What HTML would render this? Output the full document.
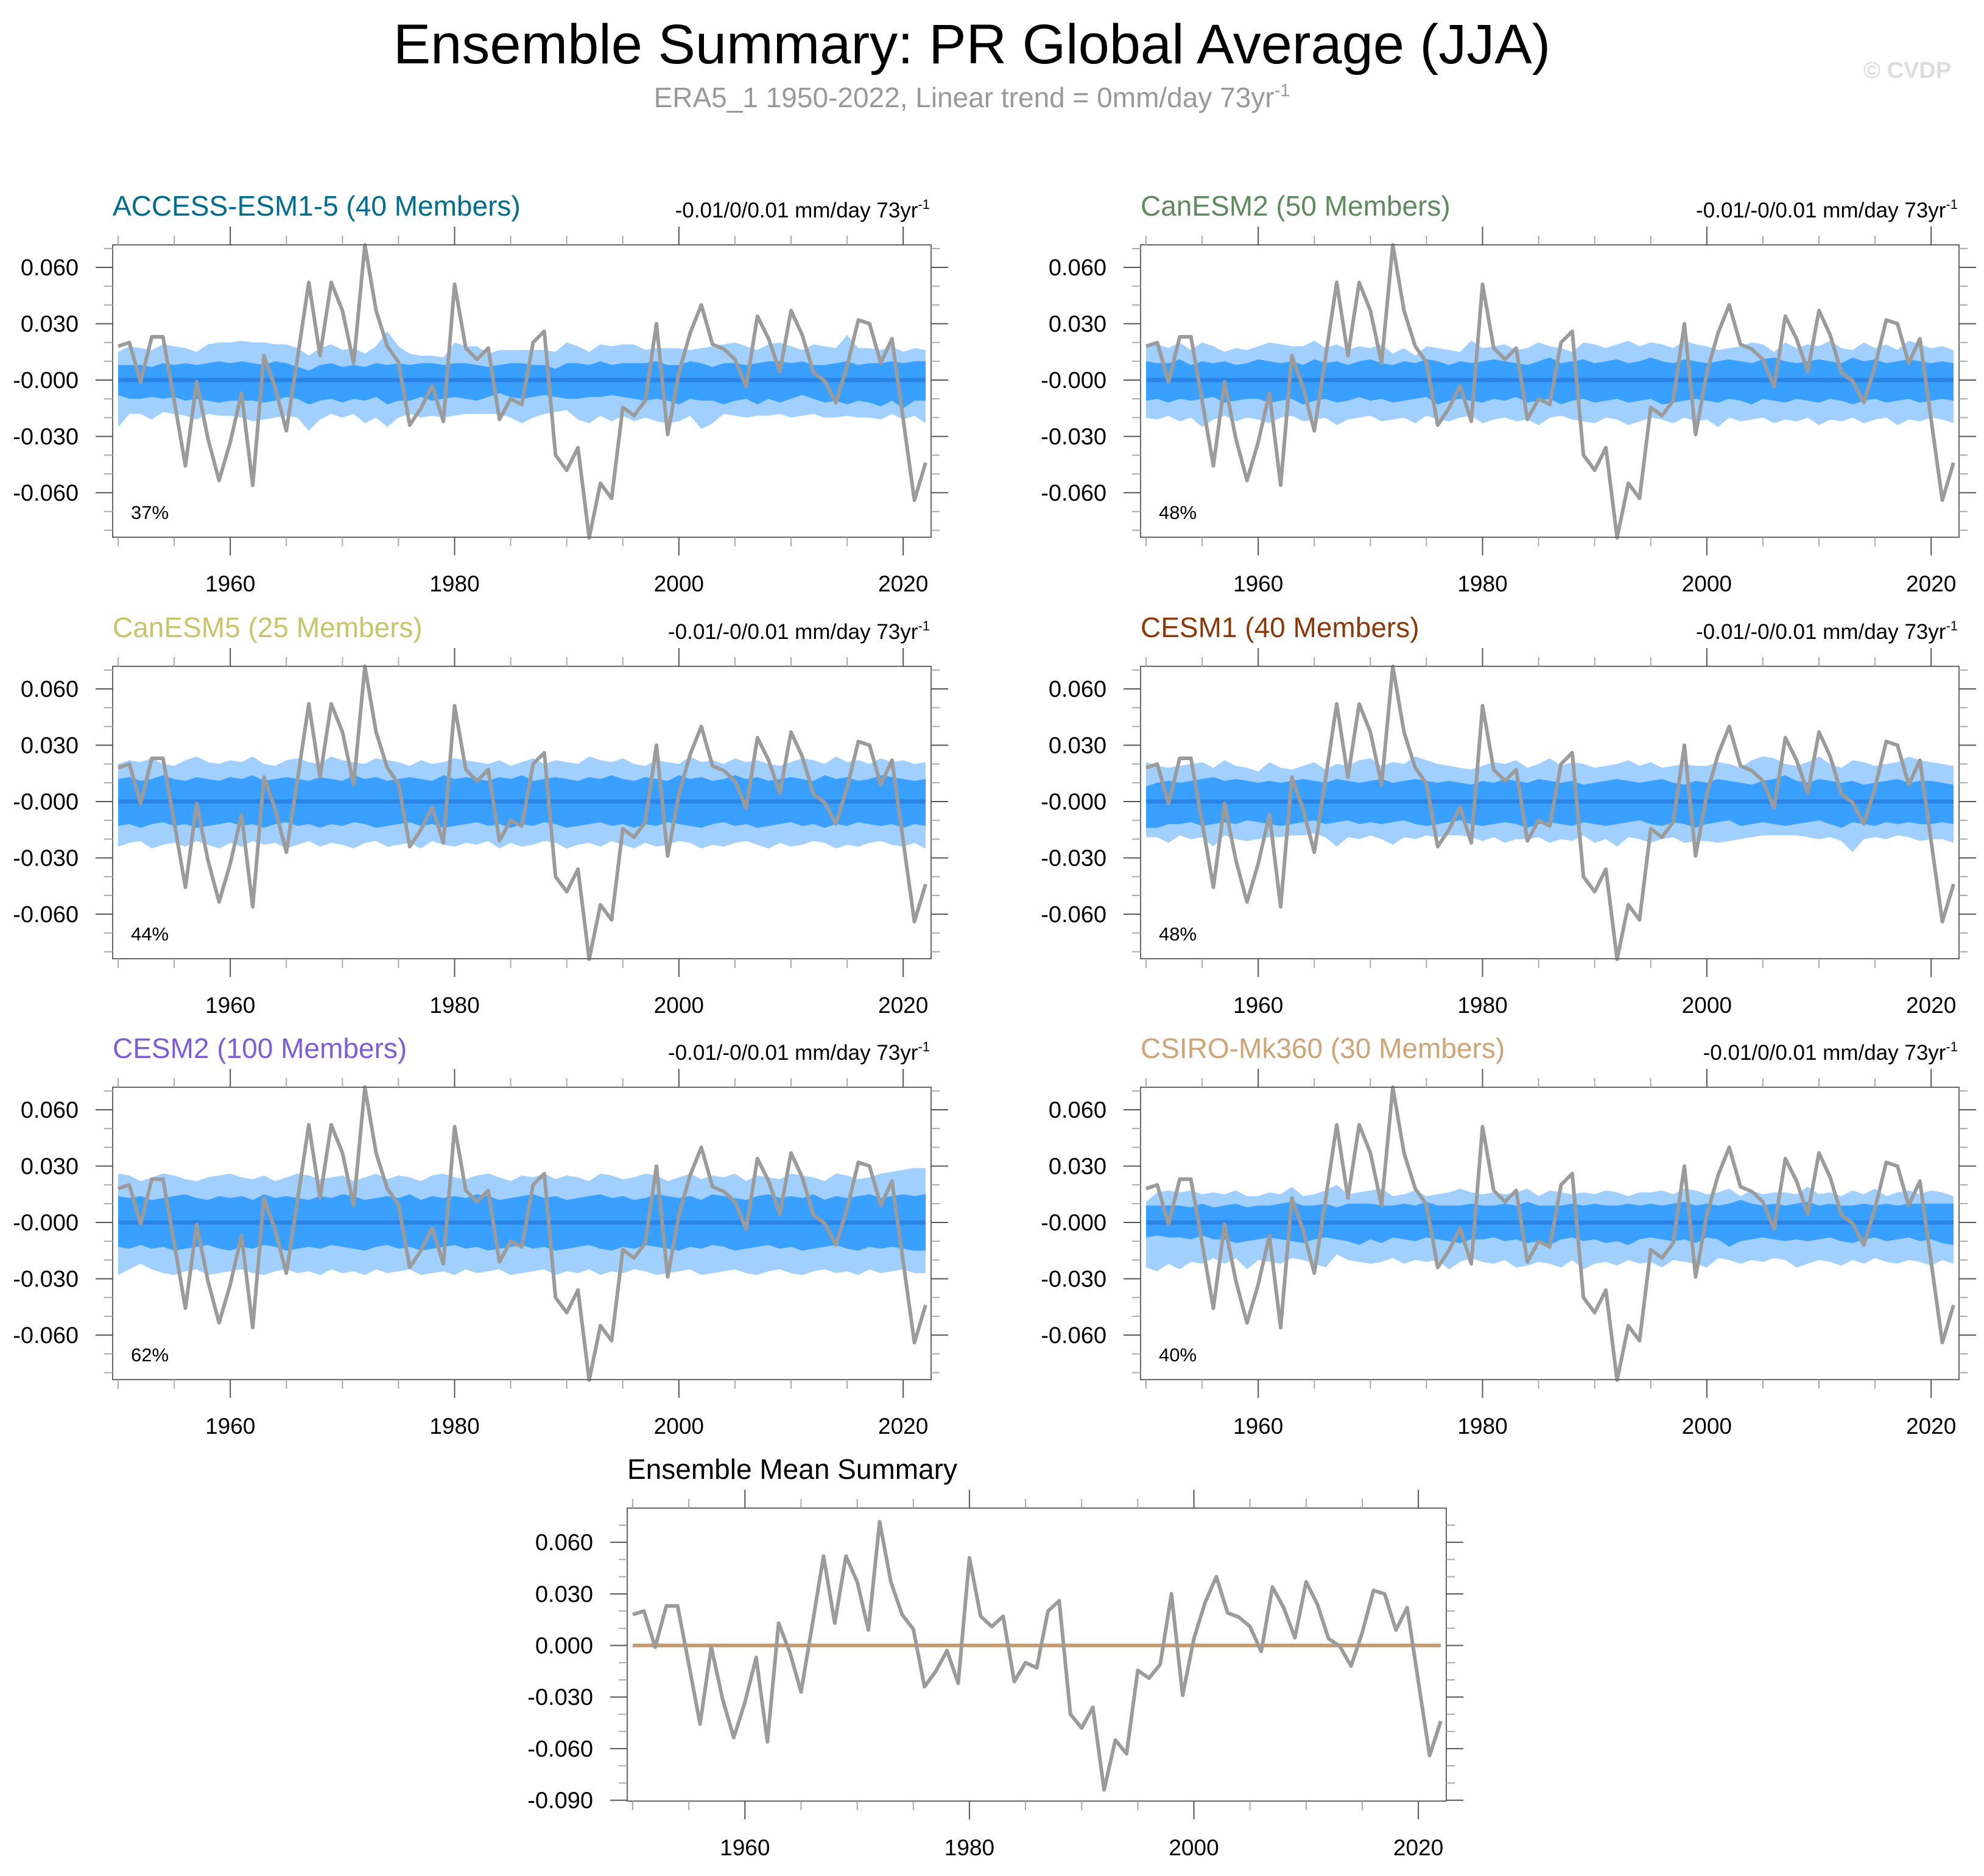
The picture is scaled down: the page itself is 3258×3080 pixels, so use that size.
<!DOCTYPE html>
<html><head><meta charset="utf-8">
<style>
html,body{margin:0;padding:0;background:#fff;}
body{width:3258px;height:3075px;overflow:hidden;font-family:"Liberation Sans",sans-serif;}
svg text{font-family:"Liberation Sans",sans-serif;}
</style></head>
<body>
<svg id="chart" width="3258" height="3075" viewBox="0 0 3258 3075" xmlns="http://www.w3.org/2000/svg">
<text x="1596" y="104" font-size="92" text-anchor="middle" fill="#000">Ensemble Summary: PR Global Average (JJA)</text>
<text x="1596" y="176" font-size="46" text-anchor="middle" fill="#999">ERA5_1 1950-2022, Linear trend = 0mm/day 73yr<tspan dy="-18" font-size="29">-1</tspan></text>
<text x="3132" y="128" font-size="38" font-weight="bold" text-anchor="middle" fill="#ddd">© CVDP</text>
</svg>
<script>
// Observed series (ERA5) 1950-2022, mm/day anomaly
const years = Array.from({length:73},(_,i)=>1950+i);
const obs = [0.018,0.020,-0.001,0.023,0.023,-0.011,-0.0457,-0.001,-0.031,-0.0535,
 -0.033,-0.007,-0.056,0.013,-0.004,-0.027,0.012,0.052,0.013,0.052,
 0.037,0.009,0.072,0.037,0.018,0.0095,-0.024,-0.015,-0.003,-0.022,
 0.051,0.017,0.011,0.017,-0.021,-0.010,-0.013,0.020,0.026,-0.040,
 -0.048,-0.036,-0.084,-0.055,-0.063,-0.0145,-0.019,-0.011,0.030,-0.029,
 0.004,0.025,0.040,0.019,0.0165,0.011,-0.0035,0.034,0.022,0.0045,
 0.037,0.024,0.004,-0.0005,-0.012,0.0075,0.032,0.030,0.009,0.022,
 -0.021,-0.064,-0.044];
// Ensemble bands in 0.001 mm/day: outer-high, inner-high, inner-low (magnitude), outer-low (magnitude)
const accessOH=[15,18,17,16,19,18,17,15,19,20,20,21,20,20,19,19,17,13,17,19,16,17,14,18,26,18,14,13,13,12,20,18,18,14,16,16,16,16,16,15,20,18,15,19,18,19,19,16,17,17,17,16,17,18,19,20,18,16,19,20,18,16,19,18,17,24,17,17,16,18,15,17,16];
const accessIH=[8,8,8,7,9,8,9,8,9,10,9,10,9,8,10,9,7,5,8,9,7,8,7,9,8,9,8,9,9,8,9,9,8,7,8,9,9,8,8,6,9,9,8,10,8,9,9,9,10,8,8,10,9,7,9,9,8,9,10,10,9,10,8,8,9,10,8,9,9,10,9,10,10];
const accessIL=[8,10,10,9,10,9,11,10,11,12,11,11,11,12,11,9,10,13,11,10,12,10,11,9,13,11,11,9,11,10,9,10,11,9,7,9,10,9,8,9,10,10,9,9,8,9,10,11,10,11,13,10,11,11,13,11,10,13,10,12,10,8,10,12,11,13,11,12,14,11,15,11,11];
const accessOL=[25,18,18,21,17,18,19,21,18,19,19,20,22,21,20,19,20,27,21,18,20,18,23,20,25,20,18,20,19,20,19,18,18,18,18,20,23,20,18,17,16,21,23,19,22,19,22,20,22,23,22,19,26,23,18,19,20,19,19,18,20,19,18,20,20,19,20,20,21,18,21,19,23];
const can2OH=[18,19,17,20,16,20,18,15,17,16,18,20,19,18,18,21,17,19,16,18,17,19,14,17,13,18,17,16,15,21,17,18,19,16,17,20,18,17,15,20,19,17,19,21,18,20,19,17,21,19,18,16,17,18,20,19,15,20,17,19,18,21,17,16,20,17,19,16,21,19,17,18,16];
const can2IH=[10,9,9,11,8,10,9,10,8,9,11,10,9,10,8,11,9,10,8,10,11,9,8,10,9,11,10,8,10,9,10,11,10,9,8,10,12,9,10,11,9,10,11,9,10,12,10,9,11,10,9,10,11,10,9,11,12,10,9,10,11,10,9,12,10,11,9,10,11,10,9,10,9];
const can2IL=[11,10,12,10,11,10,9,12,11,10,10,12,11,10,13,11,10,12,11,9,11,10,12,11,10,9,13,11,10,11,12,10,11,9,12,11,10,13,11,10,12,11,10,12,11,10,13,12,11,10,11,12,10,11,13,10,11,12,10,11,12,10,11,13,11,10,12,11,10,12,11,10,11];
const can2OL=[20,21,19,22,20,25,21,19,22,20,21,23,20,19,22,21,20,24,21,20,19,22,21,20,23,19,21,22,20,19,23,21,20,22,21,24,20,19,21,22,23,20,21,24,22,20,21,23,20,22,21,25,20,22,21,20,23,21,22,20,24,21,22,20,23,21,20,24,21,22,20,21,23];
const can5OH=[20,22,21,23,20,19,22,24,21,20,22,21,24,20,19,22,23,21,20,24,22,21,20,23,22,21,19,22,20,21,23,22,21,20,22,19,21,23,20,22,21,20,24,22,21,23,20,19,22,21,20,24,21,22,20,23,21,22,20,19,21,23,22,20,24,21,22,20,23,21,22,20,21];
const can5IH=[12,13,11,12,14,12,11,13,12,11,13,12,14,11,12,13,12,11,13,12,11,14,12,13,11,12,13,12,11,14,12,13,12,11,13,12,14,11,12,13,12,11,13,12,14,12,11,13,12,11,14,12,13,11,12,14,12,13,11,12,13,12,11,14,12,13,11,12,14,13,12,11,12];
const can5IL=[13,12,14,12,11,13,12,14,13,12,11,13,12,14,12,11,13,12,14,12,13,11,12,14,13,12,11,13,12,14,13,12,11,13,12,14,12,13,11,12,14,13,12,11,13,12,14,12,13,11,12,13,14,12,11,13,12,14,13,12,11,13,12,14,12,13,11,12,13,12,14,12,13];
const can5OL=[24,22,21,25,23,22,24,21,23,25,22,24,21,23,22,25,23,21,24,22,23,25,22,21,24,23,22,25,21,23,24,22,23,21,25,22,24,23,21,22,25,23,22,24,21,23,25,22,24,23,21,22,25,23,24,22,21,23,25,22,24,23,21,22,25,23,24,22,21,23,24,22,25];
const cesm1OH=[21,19,18,19,20,21,18,22,19,18,16,21,18,17,19,21,17,20,19,22,23,19,21,20,24,22,20,19,18,17,19,21,20,22,18,20,23,19,21,20,18,19,20,22,19,21,18,19,20,19,19,21,20,18,22,24,23,20,19,21,24,20,18,22,21,19,20,21,24,22,21,20,19];
const cesm1IH=[8,10,11,10,11,12,13,11,12,11,10,11,10,11,12,11,10,12,11,10,11,12,10,11,12,11,10,11,10,9,11,10,12,11,10,12,11,10,11,9,10,11,12,11,10,11,12,10,9,11,10,12,11,10,9,11,12,14,11,10,12,11,10,11,9,10,11,12,10,11,11,10,9];
const cesm1IL=[14,14,12,12,11,13,12,11,12,10,11,12,13,12,11,10,12,11,10,12,11,12,11,10,12,13,12,11,10,12,13,12,11,12,14,12,11,12,13,11,12,13,12,11,10,12,13,11,12,14,12,11,10,13,12,11,12,13,12,11,10,12,14,11,12,13,11,12,11,12,12,11,12];
const cesm1OL=[19,19,22,18,20,19,24,18,20,21,20,19,19,18,18,17,19,24,19,20,18,20,23,19,20,18,19,18,18,19,21,19,22,20,20,19,22,20,21,18,22,20,24,19,20,22,20,19,22,21,21,22,21,20,19,18,18,18,18,19,20,19,21,27,20,19,20,18,19,21,20,20,22];
const cesm2OH=[26,25,22,24,26,25,23,22,24,25,26,24,23,25,22,24,26,25,23,24,25,22,24,26,23,25,24,22,25,26,24,23,25,26,24,22,25,24,26,23,25,24,22,26,25,23,24,26,25,22,24,26,23,25,24,26,22,25,24,23,26,25,24,22,26,25,23,24,26,27,28,29,29];
const cesm2IH=[14,13,14,12,13,14,15,13,12,14,13,14,12,15,13,14,13,12,14,13,15,14,12,13,14,13,15,12,14,13,14,13,15,14,12,13,14,15,13,14,12,13,14,15,13,14,12,13,15,14,13,14,12,15,14,13,12,14,15,13,14,13,15,12,14,13,14,15,13,14,15,14,15];
const cesm2IL=[13,14,12,14,13,15,14,13,12,14,15,13,14,12,13,15,14,13,14,12,13,14,15,13,12,14,13,15,14,13,12,14,13,15,14,13,12,14,13,15,14,13,12,14,15,13,14,12,13,14,15,13,14,12,13,15,14,13,12,14,13,15,14,13,12,14,15,13,14,13,14,15,15];
const cesm2OL=[28,25,22,25,27,28,26,25,28,27,26,25,27,28,26,25,27,26,28,25,27,26,28,25,27,26,25,28,27,26,28,25,27,26,25,28,27,26,25,28,26,27,25,28,26,27,25,26,28,27,26,25,28,27,26,25,27,28,26,25,27,28,26,25,27,26,28,25,27,26,25,27,27];
const csiroOH=[11,16,17,16,17,15,16,15,17,14,14,16,15,19,14,15,17,20,15,16,17,18,14,15,17,14,15,16,18,16,15,16,15,16,18,14,17,16,15,16,15,17,16,14,16,16,17,15,18,17,15,16,18,14,17,15,16,16,15,19,15,16,14,17,15,18,14,16,17,15,17,16,14];
const csiroIH=[9,9,9,9,8,10,8,9,10,8,9,9,10,11,9,9,10,8,10,10,10,9,9,10,9,11,9,9,9,10,9,9,10,9,11,9,9,9,10,9,10,9,9,10,9,10,9,10,11,9,10,9,10,12,10,9,10,9,10,11,9,10,9,9,10,9,10,9,10,10,10,10,10];
const csiroIL=[8,7,8,8,9,7,9,9,11,10,9,8,9,10,11,9,8,9,10,12,9,11,8,9,10,8,9,10,11,9,9,8,10,9,11,10,12,9,8,10,9,11,10,12,9,8,9,10,9,11,8,9,13,10,9,8,9,10,9,10,9,8,10,11,9,8,10,9,8,10,9,11,12];
const csiroOL=[24,26,22,25,21,22,19,22,19,25,20,21,22,19,20,22,24,17,20,21,22,21,19,22,20,21,20,25,21,19,21,22,20,24,23,21,22,24,20,25,22,21,23,20,22,21,24,20,21,22,24,19,20,22,20,21,19,20,24,22,20,21,23,20,22,19,21,22,20,21,23,20,22];
const modelNames=["ACCESS-ESM1-5 (40 Members)","CanESM2 (50 Members)","CanESM5 (25 Members)","CESM1 (40 Members)","CESM2 (100 Members)","CSIRO-Mk360 (30 Members)"];
const trendLabels=["-0.01/0/0.01","-0.01/-0/0.01","-0.01/-0/0.01","-0.01/-0/0.01","-0.01/-0/0.01","-0.01/0/0.01"];
const percents=["37%","48%","44%","48%","62%","40%"];
const yTickVals=[-0.06,-0.03,0,0.03,0.06];
const yTickLabels=["-0.060","-0.030","-0.000","0.030","0.060"];
const meanYTickVals=[-0.09,-0.06,-0.03,0,0.03,0.06];
const meanYTickLabels=["-0.090","-0.060","-0.030","0.000","0.030","0.060"];
const xTickVals=[1960,1980,2000,2020];

const bands=[[accessOH,accessIH,accessIL,accessOL],[can2OH,can2IH,can2IL,can2OL],[can5OH,can5IH,can5IL,can5OL],[cesm1OH,cesm1IH,cesm1IL,cesm1OL],[cesm2OH,cesm2IH,cesm2IL,cesm2OL],[csiroOH,csiroIH,csiroIL,csiroOL]];
const titleColors=["#006c8e","#5f8a5f","#c9c46a","#8b3a0c","#7d5ed8","#cfa476"];

const NS="http://www.w3.org/2000/svg";
const svg=document.getElementById('chart');
function mk(tag,attrs,parent){const e=document.createElementNS(NS,tag);for(const k in attrs)e.setAttribute(k,attrs[k]);(parent||svg).appendChild(e);return e;}

function drawPanel(p){
  const g=mk('g',{});
  
  
  const L=p.x,T=p.y,W=p.w,H=p.h;
  const xs=yr=>L+9+(yr-1950)*(W-18)/72;
  const ys=v=>T+(p.ymax-v)/(p.ymax-p.ymin)*H;
  if(p.band){
    const [oh,ih,il,ol]=p.band;
    const poly=(hi,lo,col,nm)=>{
      let pts=[];
      years.forEach((yr,i)=>pts.push(xs(yr)+','+ys(hi[i]/1000)));
      for(let i=years.length-1;i>=0;i--)pts.push(xs(years[i])+','+ys(-lo[i]/1000));
      const e=mk('polygon',{points:pts.join(' '),fill:col},g);
      
      
    };
    poly(oh,ol,'#a1d0ff','outer-spread-band');
    poly(ih,il,'#3aa0ff','inner-spread-band');
  }
  const ml=mk('line',{x1:xs(1950),x2:xs(2022),y1:ys(0),y2:ys(0),stroke:p.meanColor,'stroke-width':p.meanW},g);
  
  
  const op=mk('polyline',{points:years.map((yr,i)=>xs(yr)+','+ys(obs[i])).join(' '),fill:'none',stroke:'#9b9b9b','stroke-width':6,'stroke-linejoin':'round'},g);
  
  
  const fr=mk('rect',{x:L,y:T,width:W,height:H,fill:'none',stroke:'#666','stroke-width':2},g);
  
  
  for(let v=-0.09;v<=0.0801;v+=0.01){
    const vv=Math.round(v*100)/100;
    if(vv<p.ymin-1e-9||vv>p.ymax+1e-9)continue;
    const major=p.yt.some(t=>Math.abs(t-vv)<1e-9);
    const len=major?28:14, y=ys(vv), c=major?'#555':'#aaa';
    mk('line',{x1:L-len,x2:L,y1:y,y2:y,stroke:c,'stroke-width':2},g);
    mk('line',{x1:L+W,x2:L+W+len,y1:y,y2:y,stroke:c,'stroke-width':2},g);
  }
  p.yt.forEach((v,i)=>{
    const t=mk('text',{x:L-56,y:ys(v)+13,'font-size':38,'text-anchor':'end',fill:'#000'},g);
    t.textContent=p.yl[i];
    
    
  });
  for(let yr=1950;yr<=2020;yr+=5){
    const major=xTickVals.includes(yr);
    const len=major?30:15, x=xs(yr), c=major?'#555':'#aaa';
    mk('line',{x1:x,x2:x,y1:T-len,y2:T,stroke:c,'stroke-width':2},g);
    mk('line',{x1:x,x2:x,y1:T+H,y2:T+H+len,stroke:c,'stroke-width':2},g);
  }
  xTickVals.forEach(yr=>{
    const t=mk('text',{x:xs(yr),y:T+H+89,'font-size':37,'text-anchor':'middle',fill:'#000'},g);
    t.textContent=yr;
    
    
  });
  const tt=mk('text',{x:L,y:T-48,'font-size':p.titleSize,fill:p.titleColor},g);
  tt.textContent=p.title;
  
  
  if(p.trend){
    const tr=mk('text',{x:L+W-2,y:T-45,'font-size':35,'text-anchor':'end',fill:'#000'},g);
    tr.innerHTML=p.trend+' mm/day 73yr<tspan dy="-14" font-size="22">-1</tspan>';
    
    
  }
  if(p.pct){
    const pc=mk('text',{x:L+30,y:T+H-30,'font-size':31,fill:'#000'},g);
    pc.textContent=p.pct;
    
    
  }
}

const lefts=[185,1873], tops=[402,1094,1785];
for(let i=0;i<6;i++){
  drawPanel({name:'panel-'+modelNames[i].split(' ')[0].toLowerCase(),x:lefts[i%2],y:tops[Math.floor(i/2)],w:1344,h:480,
    ymin:-0.0837,ymax:0.072,band:bands[i],meanColor:'#2a84e6',meanW:7,
    yt:yTickVals,yl:yTickLabels,title:modelNames[i],titleColor:titleColors[i],titleSize:46,trend:trendLabels[i],pct:percents[i]});
}
drawPanel({name:'ensemble-mean-summary-panel',x:1030,y:2476,w:1345,h:481,ymin:-0.0905,ymax:0.0799,band:null,
  meanColor:'#c49a6c',meanW:6,yt:meanYTickVals,yl:meanYTickLabels,title:'Ensemble Mean Summary',titleColor:'#000',titleSize:46,trend:null,pct:null});
</script>
</body></html>
